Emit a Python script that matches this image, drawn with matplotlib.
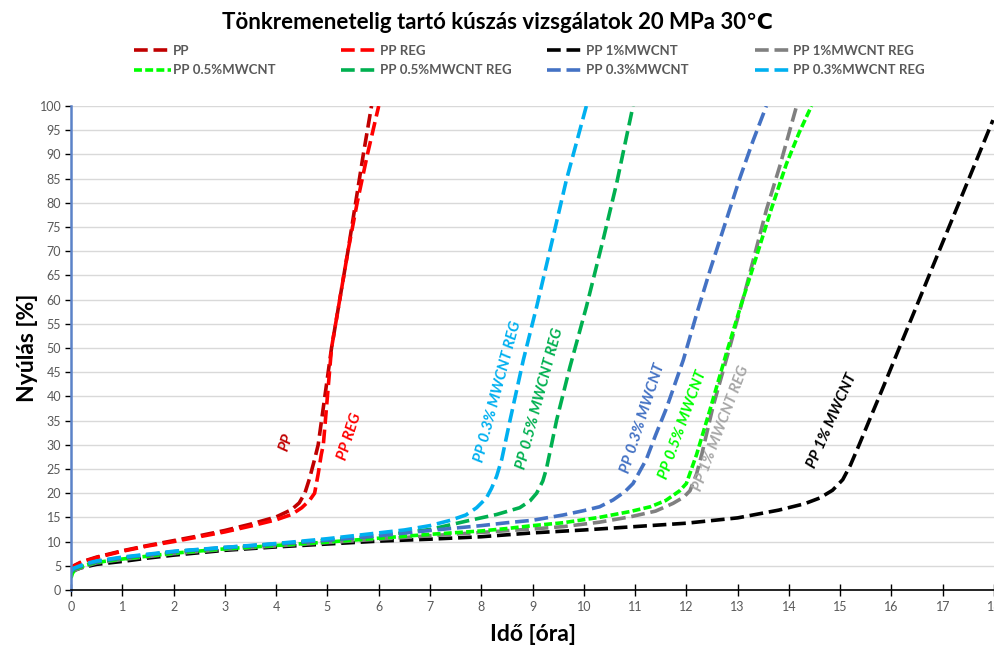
import matplotlib
matplotlib.use("Agg")
import matplotlib.pyplot as plt

plt.rcParams['font.family'] = ['Lato', 'DejaVu Sans']

# --- data (time [h], elongation [%]) ---
pp_x = [0, 0.05, 0.2, 0.5, 1, 1.5, 2, 2.5, 3, 3.5, 4.0, 4.3, 4.45, 4.56, 4.65, 4.75, 4.82, 4.95, 5.08, 5.24, 5.40, 5.55, 5.70, 5.86]
pp_y = [4.0, 5.0, 5.8, 6.8, 8.1, 9.2, 10.2, 11.2, 12.3, 13.6, 15.1, 16.6, 18.0, 20.0, 23.0, 27.0, 30.0, 40.0, 50.0, 60.0, 70.0, 80.0, 90.0, 100.0]

ppreg_x = [0, 0.05, 0.2, 0.5, 1, 1.5, 2, 2.5, 3, 3.5, 4.0, 4.3, 4.5, 4.65, 4.75, 4.82, 4.88, 4.92, 5.0, 5.08, 5.24, 5.40, 5.58, 5.78, 6.0]
ppreg_y = [4.0, 4.9, 5.7, 6.7, 8.0, 9.1, 10.0, 11.0, 12.0, 13.2, 14.5, 15.6, 17.0, 18.5, 20.0, 24.0, 28.0, 30.0, 40.0, 50.0, 60.0, 70.0, 80.0, 90.0, 100.0]

cnt1_x = [0, 0.05, 0.2, 0.5, 1, 1.5, 2, 3, 4, 5, 6, 7, 8, 9, 10, 11, 12, 13, 13.8, 14.3, 14.6, 14.85, 15.05, 15.2, 15.37, 15.57, 15.85, 16.09, 16.48, 16.8, 17.13, 17.55, 17.98]
cnt1_y = [3.5, 4.0, 4.6, 5.3, 5.9, 6.6, 7.2, 8.2, 8.9, 9.5, 10.1, 10.5, 11.0, 11.8, 12.4, 13.1, 13.8, 14.9, 16.5, 17.8, 19.0, 20.6, 22.8, 25.8, 30.0, 35.1, 42.2, 48.4, 58.4, 66.7, 75.2, 86.0, 97.1]

cnt1reg_x = [0, 0.05, 0.3, 0.5, 1, 2, 3, 4, 5, 6, 7, 8, 9, 9.6, 10.3, 10.9, 11.4, 11.74, 11.95, 12.07, 12.2, 12.3, 12.52, 12.85, 13.17, 13.56, 13.82, 14.15]
cnt1reg_y = [3.3, 4.0, 5.0, 5.6, 6.3, 7.5, 8.4, 9.1, 9.8, 10.5, 11.2, 11.9, 12.6, 13.1, 14.0, 15.1, 16.3, 17.9, 19.2, 20.5, 24.0, 28.0, 37.9, 50.3, 62.7, 78.5, 87.5, 100.0]

cnt05_x = [0, 0.03, 0.1, 0.3, 0.5, 1, 2, 3, 4, 5, 6, 7, 8, 8.5, 9, 9.6, 10.3, 10.9, 11.3, 11.6, 11.87, 12.0, 12.2, 12.46, 12.78, 13.07, 13.37, 13.65, 13.95, 14.2, 14.44]
cnt05_y = [2.5, 3.5, 4.4, 5.2, 5.7, 6.4, 7.6, 8.5, 9.2, 9.9, 10.7, 11.5, 12.2, 12.7, 13.3, 13.9, 15.0, 16.2, 17.2, 18.5, 20.5, 22.0, 28.0, 37.2, 48.9, 59.0, 69.0, 78.5, 88.0, 94.5, 100.0]

cnt05reg_x = [0, 0.05, 0.3, 0.5, 1, 2, 3, 4, 5, 6, 7, 7.78, 8.3, 8.75, 8.95, 9.08, 9.2, 9.27, 9.37, 9.47, 9.73, 10.05, 10.38, 10.64, 10.96]
cnt05reg_y = [3.6, 4.3, 5.3, 5.8, 6.6, 7.9, 8.7, 9.5, 10.3, 11.2, 12.5, 14.4, 15.6, 17.0, 18.4, 20.0, 22.5, 25.0, 30.0, 35.1, 46.1, 58.5, 72.5, 84.0, 100.0]

cnt03_x = [0, 0.05, 0.3, 0.5, 1, 2, 3, 4, 5, 6, 7, 8, 8.5, 9, 9.6, 10.0, 10.31, 10.57, 10.8, 10.96, 11.09, 11.22, 11.4, 11.61, 11.94, 12.2, 12.46, 12.75, 13.04, 13.3, 13.56]
cnt03_y = [3.8, 4.4, 5.4, 5.9, 6.7, 7.9, 8.8, 9.5, 10.3, 11.2, 12.3, 13.3, 13.9, 14.4, 15.5, 16.4, 17.2, 18.6, 20.3, 22.0, 24.5, 27.0, 32.0, 37.5, 47.5, 57.0, 66.0, 75.5, 85.0, 92.8, 100.0]

cnt03reg_x = [0, 0.05, 0.3, 0.5, 1, 2, 3, 4, 5, 6, 6.5, 7, 7.4, 7.7, 7.91, 8.1, 8.2, 8.3, 8.4, 8.56, 8.82, 9.08, 9.34, 9.66, 10.05]
cnt03reg_y = [3.9, 4.5, 5.5, 6.0, 6.8, 8.0, 8.8, 9.6, 10.6, 11.8, 12.4, 13.3, 14.4, 15.5, 17.0, 19.0, 21.0, 23.5, 27.0, 35.0, 47.5, 58.5, 70.2, 84.7, 100.0]

series = [
    ("PP", pp_x, pp_y, "#c00000", (3.8, 1.6)),
    ("PP REG", ppreg_x, ppreg_y, "#ff0000", (3.8, 1.6)),
    ("PP 1%MWCNT", cnt1_x, cnt1_y, "#000000", (3.8, 1.6)),
    ("PP 1%MWCNT REG", cnt1reg_x, cnt1reg_y, "#808080", (3.8, 1.6)),
    ("PP 0.5%MWCNT", cnt05_x, cnt05_y, "#00ff00", (2.2, 0.9)),
    ("PP 0.5%MWCNT REG", cnt05reg_x, cnt05reg_y, "#00b050", (3.8, 1.6)),
    ("PP 0.3%MWCNT", cnt03_x, cnt03_y, "#4472c4", (3.8, 1.6)),
    ("PP 0.3%MWCNT REG", cnt03reg_x, cnt03reg_y, "#00b0f0", (3.8, 1.6)),
]

# curve labels: text, x, y, angle, colour
labels = [
    ("PP", 4.2, 30.6, 72, "#c00000"),
    ("PP REG", 5.44, 31.7, 72, "#ff0000"),
    ("PP 0.3% MWCNT REG", 8.33, 41.0, 75, "#00b0f0"),
    ("PP 0.5% MWCNT REG", 9.14, 39.6, 75, "#00b050"),
    ("PP 0.3% MWCNT", 11.16, 35.5, 72, "#4472c4"),
    ("PP 0.5% MWCNT", 11.94, 34.1, 70, "#00ff00"),
    ("PP 1% MWCNT REG", 12.68, 33.4, 69, "#a6a6a6"),
    ("PP 1% MWCNT", 14.85, 34.9, 66, "#000000"),
]

fig = plt.figure(figsize=(9.95, 6.46), dpi=100)
ax = fig.add_axes([0.0714, 0.0867, 0.9276, 0.7492])

handles = []
for name, xs, ys, col, dash in series:
    ln, = ax.plot(xs, ys, color=col, lw=2.6, dashes=dash, label=name,
                  solid_capstyle='butt', dash_capstyle='butt')
    handles.append(ln)

for txt, lx, ly, ang, col in labels:
    ax.text(lx, ly, txt, rotation=ang, color=col, fontsize=11,
            fontweight='bold', fontstyle='italic', ha='center', va='center',
            rotation_mode='anchor')

ax.set_xlim(0, 18)
ax.set_ylim(0, 100)
ax.set_xticks(range(0, 19))
ax.set_yticks(range(0, 101, 5))
ax.grid(axis='y', color='#d9d9d9', lw=1)
ax.set_axisbelow(True)
for s in ['top', 'right']:
    ax.spines[s].set_visible(False)
ax.spines['left'].set_color('#5b82c8')
ax.spines['left'].set_linewidth(1.8)
ax.spines['bottom'].set_color('#000000')
ax.spines['bottom'].set_linewidth(1.2)
ax.tick_params(axis='x', direction='inout', length=8, width=1, color='#000000',
               labelsize=9, labelcolor='#595959', pad=4)
ax.tick_params(axis='y', direction='out', length=4, width=1, color='#000000',
               labelsize=9, labelcolor='#595959', pad=3)

ax.set_xlabel("Idő [óra]", fontsize=16.5, fontweight='bold', labelpad=8)
ax.set_ylabel("Nyúlás [%]", fontsize=16.5, fontweight='bold', labelpad=1)

fig.text(0.5, 0.965, "Tönkremenetelig tartó kúszás vizsgálatok 20 MPa 30℃",
         ha='center', va='center', fontsize=16, fontweight='bold',
         family=['Lato', 'DejaVu Sans'])

# legend: four columns, two rows each
col_x = [0.135, 0.343, 0.550, 0.759]
for i, cx in enumerate(col_x):
    hs = [handles[i], handles[i + 4]]
    lg = fig.legend(hs, [h.get_label() for h in hs], loc='upper left',
                    bbox_to_anchor=(cx, 0.931), frameon=False, fontsize=9.5,
                    handlelength=2.8, handletextpad=0.1, labelspacing=0.6,
                    borderaxespad=0, borderpad=0)
    for t in lg.get_texts():
        t.set_color('#595959')
        t.set_fontweight('bold')

fig.savefig("out.png", dpi=100)
